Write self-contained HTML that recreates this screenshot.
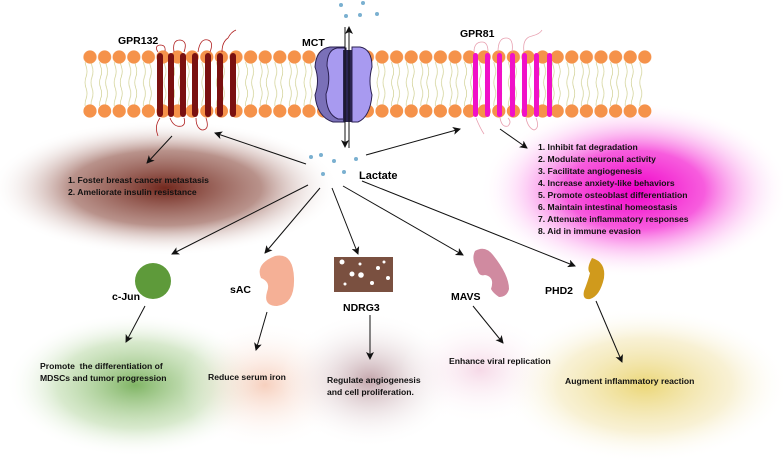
<!DOCTYPE html>
<html><head><meta charset="utf-8"><style>
html,body{margin:0;padding:0;background:#fff;}
svg{display:block;font-family:"Liberation Sans",Arial,sans-serif;font-weight:bold;}
</style></head><body>
<svg width="783" height="463" viewBox="0 0 783 463" xmlns="http://www.w3.org/2000/svg">
<defs>
<radialGradient id="gBrown"><stop offset="0" stop-color="#6b1d12" stop-opacity="0.95"/><stop offset="0.55" stop-color="#8a4a3e" stop-opacity="0.6"/><stop offset="1" stop-color="#fff" stop-opacity="0"/></radialGradient>
<radialGradient id="gMag"><stop offset="0" stop-color="#f000c8"/><stop offset="0.45" stop-color="#f640d8" stop-opacity="0.85"/><stop offset="1" stop-color="#fff" stop-opacity="0"/></radialGradient>
<radialGradient id="gGreen"><stop offset="0" stop-color="#6aa84a" stop-opacity="0.85"/><stop offset="0.6" stop-color="#a8cf90" stop-opacity="0.45"/><stop offset="1" stop-color="#fff" stop-opacity="0"/></radialGradient>
<radialGradient id="gPeach"><stop offset="0" stop-color="#f4c0a8" stop-opacity="0.75"/><stop offset="1" stop-color="#fff" stop-opacity="0"/></radialGradient>
<radialGradient id="gMauve"><stop offset="0" stop-color="#b08890" stop-opacity="0.75"/><stop offset="1" stop-color="#fff" stop-opacity="0"/></radialGradient>
<radialGradient id="gPink"><stop offset="0" stop-color="#f0c0d8" stop-opacity="0.6"/><stop offset="1" stop-color="#fff" stop-opacity="0"/></radialGradient>
<radialGradient id="gYel"><stop offset="0" stop-color="#e8d060" stop-opacity="0.85"/><stop offset="0.6" stop-color="#f0e0a0" stop-opacity="0.45"/><stop offset="1" stop-color="#fff" stop-opacity="0"/></radialGradient>
<marker id="ah" markerWidth="8" markerHeight="8" refX="7" refY="4" orient="auto" markerUnits="userSpaceOnUse"><path d="M0,0 L8,4 L0,8 L2,4 Z" fill="#111"/></marker>
<pattern id="tails" width="14.6" height="44" patternUnits="userSpaceOnUse" x="83">
<path d="M3,0 q2,5.5 0,11 q-2,5.5 0,11 q2,5.5 0,11 q-2,5.5 0,11 M9,0 q2,5.5 0,11 q-2,5.5 0,11 q2,5.5 0,11 q-2,5.5 0,11" fill="none" stroke="#c8c880" stroke-width="0.6"/>
</pattern>
<pattern id="heads" width="14.6" height="54" patternUnits="userSpaceOnUse" x="82.7" y="50">
<circle cx="7.3" cy="7" r="6.6" fill="#f5924a"/><circle cx="7.3" cy="61" r="6.6" fill="#f5924a"/>
</pattern>
</defs>

<!-- glows -->
<ellipse cx="165" cy="188" rx="175" ry="68" fill="url(#gBrown)"/>
<ellipse cx="635" cy="190" rx="155" ry="88" fill="url(#gMag)"/>
<ellipse cx="135" cy="385" rx="130" ry="72" fill="url(#gGreen)"/>
<ellipse cx="265" cy="385" rx="85" ry="65" fill="url(#gPeach)"/>
<ellipse cx="370" cy="380" rx="90" ry="68" fill="url(#gMauve)"/>
<ellipse cx="480" cy="370" rx="80" ry="55" fill="url(#gPink)"/>
<ellipse cx="645" cy="385" rx="145" ry="78" fill="url(#gYel)"/>

<!-- membrane -->
<rect x="83" y="62" width="562" height="44" fill="url(#tails)"/>
<rect x="83" y="50" width="569" height="14" fill="url(#heads)"/>
<rect x="83" y="104" width="569" height="14" fill="url(#heads)" transform="translate(0,-54)" style="display:none"/>
<g fill="#f5924a">
<circle cx="90" cy="111" r="6.6"/><circle cx="104.6" cy="111" r="6.6"/><circle cx="119.2" cy="111" r="6.6"/><circle cx="133.8" cy="111" r="6.6"/><circle cx="148.4" cy="111" r="6.6"/><circle cx="163" cy="111" r="6.6"/><circle cx="177.6" cy="111" r="6.6"/><circle cx="192.2" cy="111" r="6.6"/><circle cx="206.8" cy="111" r="6.6"/><circle cx="221.4" cy="111" r="6.6"/><circle cx="236" cy="111" r="6.6"/><circle cx="250.6" cy="111" r="6.6"/><circle cx="265.2" cy="111" r="6.6"/><circle cx="279.8" cy="111" r="6.6"/><circle cx="294.4" cy="111" r="6.6"/><circle cx="309" cy="111" r="6.6"/><circle cx="323.6" cy="111" r="6.6"/><circle cx="338.2" cy="111" r="6.6"/><circle cx="352.8" cy="111" r="6.6"/><circle cx="367.4" cy="111" r="6.6"/><circle cx="382" cy="111" r="6.6"/><circle cx="396.6" cy="111" r="6.6"/><circle cx="411.2" cy="111" r="6.6"/><circle cx="425.8" cy="111" r="6.6"/><circle cx="440.4" cy="111" r="6.6"/><circle cx="455" cy="111" r="6.6"/><circle cx="469.6" cy="111" r="6.6"/><circle cx="484.2" cy="111" r="6.6"/><circle cx="498.8" cy="111" r="6.6"/><circle cx="513.4" cy="111" r="6.6"/><circle cx="528" cy="111" r="6.6"/><circle cx="542.6" cy="111" r="6.6"/><circle cx="557.2" cy="111" r="6.6"/><circle cx="571.8" cy="111" r="6.6"/><circle cx="586.4" cy="111" r="6.6"/><circle cx="601" cy="111" r="6.6"/><circle cx="615.6" cy="111" r="6.6"/><circle cx="630.2" cy="111" r="6.6"/><circle cx="644.8" cy="111" r="6.6"/>
</g>

<!-- GPR132 -->
<path d="M158,52 q-4,-6 2,-7 q6,0 5,6 M174,52 q-2,-12 6,-12 q8,1 4,12 M198,52 q2,-14 10,-12 q6,2 2,12 M222,52 q0,-10 6,-14 q3,-6 8,-8 M160,118 q-6,8 -2,18 M170,118 q4,10 12,8 q4,-2 2,-8 M196,118 q0,10 6,12 q8,0 4,-12" fill="none" stroke="#b02020" stroke-width="0.8"/>
<g fill="#7a1010">
<rect x="157" y="53" width="6" height="64" rx="3"/><rect x="168" y="53" width="6" height="64" rx="3"/><rect x="180" y="53" width="6" height="64" rx="3"/><rect x="192" y="53" width="6" height="64" rx="3"/><rect x="205" y="53" width="6" height="64" rx="3"/><rect x="217" y="53" width="6" height="64" rx="3"/><rect x="230" y="53" width="6" height="64" rx="3"/>
</g>
<text x="118" y="44" font-size="10.5">GPR132</text>

<!-- GPR81 -->
<path d="M474,52 q0,-10 8,-10 q6,0 6,10 M498,52 q0,-14 8,-14 q8,0 6,14 M524,52 q-2,-14 8,-16 q8,-2 10,-6 M476,118 q4,10 8,16 M500,118 q2,10 8,8 q4,-4 0,-8 M526,118 q2,10 8,12 q6,-2 2,-12" fill="none" stroke="#e8a0b0" stroke-width="0.8"/>
<g fill="#f010c8">
<rect x="473" y="53" width="5" height="64" rx="2.5"/><rect x="485" y="53" width="5" height="64" rx="2.5"/><rect x="497" y="53" width="5" height="64" rx="2.5"/><rect x="510" y="53" width="5" height="64" rx="2.5"/><rect x="522" y="53" width="5" height="64" rx="2.5"/><rect x="534" y="53" width="5" height="64" rx="2.5"/><rect x="547" y="53" width="5" height="64" rx="2.5"/>
</g>
<text x="460" y="37" font-size="10.5">GPR81</text>

<!-- MCT -->
<path d="M330,47 q-14,2 -15,20 q5,14 0,28 q2,22 18,27 l12,0 l0,-75 z" fill="#7a70b8" stroke="#2a2050" stroke-width="1"/>
<path d="M337,48 q-10,2 -10,18 q4,14 -1,28 q0,20 12,25 l8,0 l0,-71 z" fill="#a89af0" stroke="#2a2050" stroke-width="1"/>
<rect x="343" y="50" width="10" height="72" fill="#2a2450"/>
<path d="M360,47 q12,2 12,20 q-4,14 0,28 q-2,22 -14,27 l-6,0 l0,-75 z" fill="#a89af0" stroke="#2a2050" stroke-width="1"/>
<text x="302" y="46" font-size="10.5">MCT</text>
<line x1="349" y1="148" x2="349" y2="27" stroke="#111" stroke-width="1" marker-end="url(#ah)"/>
<line x1="345" y1="27" x2="345" y2="147" stroke="#111" stroke-width="1" marker-end="url(#ah)"/>
<g fill="#7ab0d0">
<circle cx="341" cy="5" r="2"/><circle cx="363" cy="3" r="2"/><circle cx="346" cy="16" r="2"/><circle cx="360" cy="15" r="2"/><circle cx="377" cy="14" r="2"/>
<circle cx="311" cy="157" r="2"/><circle cx="321" cy="155" r="2"/><circle cx="334" cy="161" r="2"/><circle cx="356" cy="159" r="2"/><circle cx="323" cy="174" r="2"/><circle cx="344" cy="172" r="2"/>
</g>
<text x="359" y="179" font-size="11">Lactate</text>

<!-- arrows -->
<g stroke="#111" stroke-width="1" fill="none" marker-end="url(#ah)">
<line x1="306" y1="164" x2="215" y2="133"/>
<line x1="366" y1="155" x2="460" y2="129"/>
<line x1="172" y1="136" x2="147" y2="163"/>
<line x1="500" y1="129" x2="527" y2="148"/>
<line x1="308" y1="185" x2="172" y2="254"/>
<line x1="320" y1="188" x2="265" y2="253"/>
<line x1="332" y1="188" x2="358" y2="254"/>
<line x1="343" y1="186" x2="463" y2="255"/>
<line x1="362" y1="181" x2="575" y2="266"/>
<line x1="145" y1="306" x2="126" y2="342"/>
<line x1="267" y1="312" x2="256" y2="350"/>
<line x1="370" y1="315" x2="370" y2="359"/>
<line x1="473" y1="306" x2="503" y2="343"/>
<line x1="596" y1="301" x2="622" y2="362"/>
</g>

<!-- texts -->
<g font-size="8.6" fill="#111">
<text x="68" y="183">1. Foster breast cancer metastasis</text>
<text x="68" y="195">2. Ameliorate insulin resistance</text>
<text x="538" y="150">1. Inhibit fat degradation</text>
<text x="538" y="162">2. Modulate neuronal activity</text>
<text x="538" y="174">3. Facilitate angiogenesis</text>
<text x="538" y="186">4. Increase anxiety-like behaviors</text>
<text x="538" y="198">5. Promote osteoblast differentiation</text>
<text x="538" y="210">6. Maintain intestinal homeostasis</text>
<text x="538" y="222">7. Attenuate inflammatory responses</text>
<text x="538" y="234">8. Aid in immune evasion</text>
<text x="40" y="369" xml:space="preserve">Promote  the differentiation of</text>
<text x="40" y="381">MDSCs and tumor progression</text>
<text x="208" y="380">Reduce serum iron</text>
<text x="327" y="383">Regulate angiogenesis</text>
<text x="327" y="395">and cell proliferation.</text>
<text x="449" y="364">Enhance viral replication</text>
<text x="565" y="384">Augment inflammatory reaction</text>
</g>

<!-- proteins -->
<circle cx="153" cy="281" r="18" fill="#5e9a3a"/>
<text x="112" y="300" font-size="10.5">c-Jun</text>
<path d="M275,256 q18,-4 19,22 q1,26 -17,28 q-14,0 -10,-14 q4,-10 -6,-14 q-6,-14 14,-22 z" fill="#f5b096"/>
<text x="230" y="293" font-size="10.5">sAC</text>
<rect x="334" y="257" width="59" height="35" fill="#7a5040"/>
<g fill="#fff"><circle cx="342" cy="262" r="2.5"/><circle cx="352" cy="274" r="2.5"/><circle cx="361" cy="275" r="2.8"/><circle cx="378" cy="268" r="2"/><circle cx="388" cy="278" r="2"/><circle cx="372" cy="283" r="2"/><circle cx="345" cy="284" r="1.5"/><circle cx="384" cy="262" r="1.5"/><circle cx="360" cy="264" r="1.5"/></g>
<text x="343" y="311" font-size="10.5">NDRG3</text>
<path d="M475,251 q10,-6 18,4 q16,20 16,34 q-2,8 -10,8 q-6,-4 -8,-8 q4,-12 -6,-14 q-6,2 -8,-6 q-6,-10 -2,-18 z" fill="#d08aa0"/>
<text x="451" y="300" font-size="10.5">MAVS</text>
<path d="M592,258 q14,4 12,20 q-4,18 -14,21 q-8,1 -6,-8 q4,-10 6,-18 q-4,-4 2,-15 z" fill="#d09a1c"/>
<text x="545" y="294" font-size="10.5">PHD2</text>
</svg>
</body></html>
